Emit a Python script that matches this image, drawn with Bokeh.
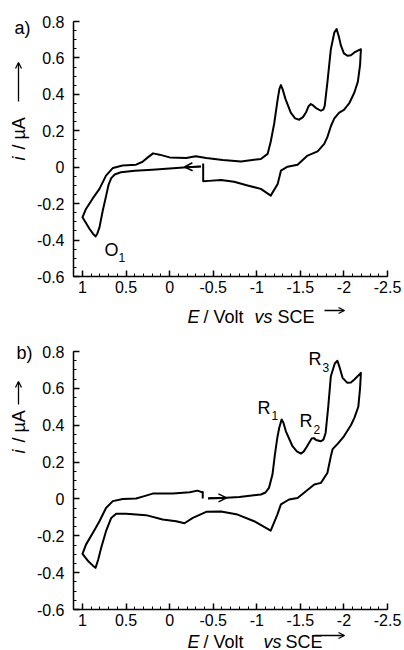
import numpy as np
from bokeh.plotting import figure
from bokeh.layouts import column
from bokeh.models import (Range1d, FixedTicker, CustomJSTickFormatter, Label,
                          Arrow, OpenHead)
from bokeh.embed import file_html
from bokeh.resources import INLINE

# ---------------- data ----------------
x_ticks = [1, 0.5, 0, -0.5, -1, -1.5, -2, -2.5]
y_ticks = [0.8, 0.6, 0.4, 0.2, 0, -0.2, -0.4, -0.6]

a_potential = [-0.36, -0.20, 0.00, 0.20, 0.40, 0.56, 0.63, 0.67, 0.70, 0.73, 0.767, 0.805, 0.83,
               0.85, 0.88, 0.92, 1.00, 0.96, 0.88, 0.805, 0.73, 0.65, 0.54, 0.385, 0.31, 0.25,
               0.19, 0.116, 0.00, -0.19, -0.30, -0.42, -0.61, -0.82, -1.047, -1.124, -1.16,
               -1.20, -1.24, -1.26, -1.277, -1.295, -1.33, -1.39, -1.44, -1.487, -1.53, -1.564,
               -1.595, -1.62, -1.65, -1.68, -1.736, -1.765, -1.78, -1.81, -1.85, -1.89, -1.916,
               -1.94, -1.966, -2.00, -2.04, -2.08, -2.12, -2.195, -2.185, -2.16, -2.12, -2.06,
               -2.00, -1.946, -1.89, -1.85, -1.81, -1.774, -1.698, -1.583, -1.468, -1.353,
               -1.277, -1.24, -1.16, -1.047, -0.894, -0.74, -0.59, -0.45, -0.385, -0.385]
a_current = [0.004, 0.000, -0.007, -0.014, -0.020, -0.028, -0.040, -0.060, -0.095, -0.160, -0.238,
             -0.330, -0.365, -0.380, -0.365, -0.338, -0.275, -0.229, -0.170, -0.119, -0.046,
             -0.004, 0.009, 0.014, 0.030, 0.054, 0.076, 0.069, 0.054, 0.051, 0.060, 0.051, 0.040,
             0.032, 0.045, 0.073, 0.140, 0.240, 0.374, 0.430, 0.451, 0.430, 0.374, 0.300, 0.268,
             0.261, 0.275, 0.300, 0.335, 0.347, 0.338, 0.325, 0.310, 0.318, 0.338, 0.465, 0.648,
             0.740, 0.758, 0.720, 0.667, 0.625, 0.612, 0.615, 0.630, 0.648, 0.560, 0.470, 0.410,
             0.350, 0.315, 0.300, 0.268, 0.225, 0.165, 0.128, 0.087, 0.064, 0.014, 0.003, -0.019,
             -0.092, -0.156, -0.119, -0.100, -0.080, -0.070, -0.075, -0.077, 0.021]

b_potential = [-0.44, -0.60, -0.80, -1.047, -1.10, -1.14, -1.18, -1.208, -1.235, -1.257, -1.285,
               -1.305, -1.334, -1.41, -1.46, -1.506, -1.54, -1.57, -1.63, -1.655, -1.68, -1.736,
               -1.765, -1.79, -1.82, -1.85, -1.895, -1.925, -1.95, -1.985, -2.04, -2.08, -2.12,
               -2.195, -2.185, -2.165, -2.12, -2.08, -2.00, -1.93, -1.87, -1.85, -1.81, -1.736,
               -1.66, -1.564, -1.468, -1.37, -1.277, -1.236, -1.16, -0.97, -0.78, -0.59, -0.42,
               -0.266, -0.17, -0.075, 0.08, 0.27, 0.50, 0.614, 0.67, 0.73, 0.786, 0.82, 0.85,
               0.88, 0.93, 1.00, 0.96, 0.88, 0.805, 0.73, 0.652, 0.538, 0.385, 0.29, 0.195,
               -0.037, -0.23, -0.32, -0.36, -0.38, -0.38]
b_current = [0.002, 0.005, 0.010, 0.024, 0.035, 0.060, 0.132, 0.241, 0.330, 0.385, 0.431, 0.415,
             0.367, 0.286, 0.258, 0.246, 0.258, 0.280, 0.328, 0.330, 0.320, 0.313, 0.322, 0.358,
             0.500, 0.666, 0.735, 0.750, 0.715, 0.657, 0.630, 0.632, 0.648, 0.684, 0.600, 0.500,
             0.440, 0.400, 0.340, 0.300, 0.270, 0.232, 0.141, 0.087, 0.078, 0.042, 0.005, -0.003,
             -0.030, -0.085, -0.172, -0.121, -0.085, -0.068, -0.070, -0.103, -0.132, -0.121,
             -0.112, -0.088, -0.080, -0.081, -0.103, -0.175, -0.266, -0.330, -0.374, -0.362,
             -0.340, -0.298, -0.248, -0.184, -0.121, -0.049, -0.012, 0.000, 0.002, 0.015, 0.029,
             0.029, 0.036, 0.045, 0.038, 0.038, 0.002]

FONT = "Liberation Sans"
W, H = 404, 325
XL, XR = 1.103, -2.5
YB, YT = -0.6, 0.8
FL, FR = 73, 387


def make_panel(E, I, top, bottom):
    def conv(px, py):
        x = XL + (px - FL) / (FR - FL) * (XR - XL)
        y = YT + (py - top) / (bottom - top) * (YB - YT)
        return x, y

    x0, y0 = conv(0, 0)
    x1, y1 = conv(W, H)
    p = figure(width=W, height=H, output_backend="svg", toolbar_location=None,
               x_range=Range1d(x0, x1), y_range=Range1d(y1, y0),
               min_border=0, min_border_left=0, min_border_right=0,
               min_border_top=0, min_border_bottom=0)
    p.outline_line_color = None
    p.xgrid.visible = False
    p.ygrid.visible = False
    p.background_fill_color = "white"
    p.border_fill_color = "white"

    x_minor = [round(1.1 - 0.1 * k, 2) for k in range(37)]
    y_minor = [round(0.8 - 0.05 * k, 2) for k in range(29)]
    p.xaxis.ticker = FixedTicker(ticks=x_ticks, minor_ticks=x_minor)
    p.yaxis.ticker = FixedTicker(ticks=y_ticks, minor_ticks=y_minor)
    p.xaxis.fixed_location = YB
    p.xaxis.bounds = (XR, XL)
    p.yaxis.fixed_location = XL
    p.yaxis.bounds = (YB, YT)
    fmt = "return (Math.round(tick*10)/10).toString();"
    for ax, so in ((p.xaxis, 4), (p.yaxis, 9)):
        ax.formatter = CustomJSTickFormatter(code=fmt)
        ax.major_tick_in = 6
        ax.major_tick_out = 0
        ax.minor_tick_in = 3
        ax.minor_tick_out = 0
        ax.axis_line_width = 1.5
        ax.major_tick_line_width = 1.5
        ax.minor_tick_line_width = 1
        ax.axis_line_color = "black"
        ax.major_tick_line_color = "black"
        ax.minor_tick_line_color = "black"
        ax.major_label_text_font = FONT
        ax.major_label_text_font_size = "16px"
        ax.major_label_text_color = "black"
        ax.major_label_standoff = so

    p.line(E, I, line_color="black", line_width=2, line_join="round")

    def lab(px, py, text, size="18px", style="normal", angle=0.0):
        x, y = conv(px, py)
        p.add_layout(Label(x=x, y=y, text=text, text_font=FONT, text_font_size=size,
                           text_font_style=style, angle=angle, text_align="left",
                           text_baseline="alphabetic" if angle == 0 else "middle",
                           text_color="black"))

    def arr(px0, py0, px1, py1, size=6, lw=1.3):
        xa, ya = conv(px0, py0)
        xb, yb = conv(px1, py1)
        p.add_layout(Arrow(end=OpenHead(size=size, line_width=lw, line_color="black"),
                           x_start=xa, y_start=ya, x_end=xb, y_end=yb,
                           line_width=lw, line_color="black"))

    return p, conv, lab, arr


# ---------------- panel a ----------------
pa, ca, laba, arra = make_panel(a_potential, a_current, 21, 276)
laba(14, 27, "a)")
laba(104, 249, "O")
laba(118, 257, "1", size="12px")
laba(187, 316, "E", style="italic")
laba(203, 316, "/ Volt")
laba(254, 316, "vs", style="italic")
laba(277, 316, "SCE")
arra(324, 310, 344, 310)
laba(18, 160, "i", style="italic", angle=np.pi / 2)
laba(18, 149, "/ µA", angle=np.pi / 2)
arra(18, 101, 18, 62)
arra(200, 166, 184, 166.5, size=8, lw=1.5)

# ---------------- panel b ----------------
pb, cb, labb, arrb = make_panel(b_potential, b_current, 26, 284)
labb(16, 27, "b)")
labb(257, 82, "R")
labb(271, 90, "1", size="12px")
labb(299, 95, "R")
labb(313, 104, "2", size="12px")
labb(308, 33, "R")
labb(322, 42, "3", size="12px")
labb(187, 316, "E", style="italic")
labb(203, 316, "/ Volt")
labb(263, 316, "vs", style="italic")
labb(285, 316, "SCE")
arrb(314, 310, 344, 310)
labb(18, 128, "i", style="italic", angle=np.pi / 2)
labb(18, 117, "/ µA", angle=np.pi / 2)
arrb(18, 79, 18, 56)
arrb(208, 172.5, 226, 172.3, size=8, lw=1.5)

layout = column(pa, pb, spacing=0)
open("out.html", "w").write(file_html(layout, INLINE))
